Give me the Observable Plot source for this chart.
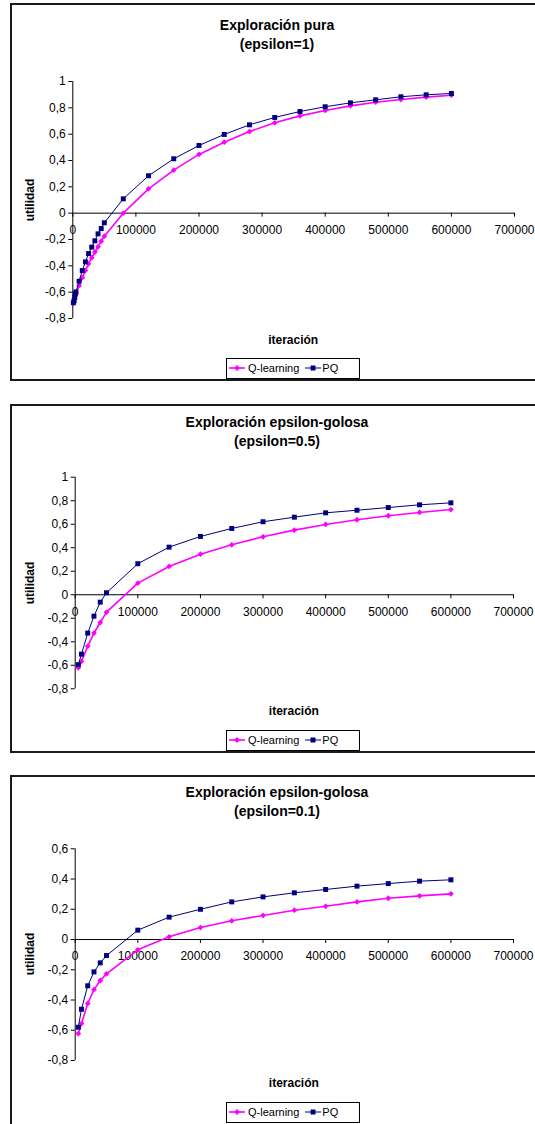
<!DOCTYPE html>
<html><head><meta charset="utf-8">
<script src="https://cdn.jsdelivr.net/npm/d3@7"></script>
<script src="https://cdn.jsdelivr.net/npm/@observablehq/plot@0.6"></script>
<style>
html,body{margin:0;padding:0;background:#fff;}
body{width:535px;height:1124px;position:relative;overflow:hidden;font-family:"Liberation Sans",Arial,sans-serif;color:#000;}
.frame{position:absolute;box-sizing:border-box;border:2px solid #1a1a1a;}
.title{position:absolute;text-align:center;font-weight:bold;font-size:14px;line-height:19px;white-space:nowrap;}
.ylab{position:absolute;font-weight:bold;font-size:12px;transform:translate(-50%,-50%) rotate(-90deg);white-space:nowrap;}
.xlab{position:absolute;font-weight:bold;font-size:12px;transform:translate(-50%,-50%);white-space:nowrap;}
.legend{position:absolute;box-sizing:border-box;border:1px solid #000;background:#fff;font-size:11px;display:flex;align-items:center;white-space:nowrap;}
.legend svg{display:block;}
.plotwrap{position:absolute;left:0;}
</style></head><body>
<script>
// ---- data ----
const xTicks = [0, 100000, 200000, 300000, 400000, 500000, 600000, 700000];
const yTicksA = [1, 0.8, 0.6, 0.4, 0.2, 0, -0.2, -0.4, -0.6, -0.8];
const yTicksB = [0.6, 0.4, 0.2, 0, -0.2, -0.4, -0.6, -0.8];
const seriesNames = ["Q-learning", "PQ"];
const seriesColors = ["#FF00FF", "#000080"];
const yTitle = "utilidad";
const xTitle = "iteración";

const title1 = ["Exploración pura", "(epsilon=1)"];
const iter1 = [1000, 2000, 3000, 4000, 5000, 10000, 15000, 20000, 25000, 30000, 35000, 40000, 45000, 50000,
  80000, 120000, 160000, 200000, 240000, 280000, 320000, 360000, 400000, 440000, 480000, 520000, 560000, 600000];
const q1 = [-0.685, -0.67, -0.65, -0.63, -0.613, -0.55, -0.49, -0.436, -0.385, -0.338, -0.295, -0.256, -0.213, -0.175,
  0.0, 0.185, 0.327, 0.446, 0.539, 0.62, 0.686, 0.739, 0.78, 0.815, 0.843, 0.863, 0.881, 0.896];
const pq1 = [-0.68, -0.665, -0.64, -0.61, -0.598, -0.517, -0.436, -0.37, -0.307, -0.258, -0.21, -0.157, -0.117, -0.073,
  0.109, 0.284, 0.413, 0.514, 0.598, 0.671, 0.727, 0.772, 0.808, 0.838, 0.861, 0.884, 0.899, 0.909];

const title2 = ["Exploración epsilon-golosa", "(epsilon=0.5)"];
const iter2 = [5000, 10000, 20000, 30000, 40000, 50000, 100000, 150000, 200000, 250000, 300000, 350000, 400000, 450000, 500000, 550000, 600000];
const q2 = [-0.621, -0.567, -0.437, -0.326, -0.236, -0.148, 0.099, 0.241, 0.345, 0.425, 0.493, 0.550, 0.598, 0.638, 0.672, 0.700, 0.725];
const pq2 = [-0.595, -0.505, -0.326, -0.182, -0.063, 0.017, 0.264, 0.405, 0.496, 0.564, 0.621, 0.660, 0.697, 0.719, 0.742, 0.765, 0.782];

const title3 = ["Exploración epsilon-golosa", "(epsilon=0.1)"];
const iter3 = [5000, 10000, 20000, 30000, 40000, 50000, 100000, 150000, 200000, 250000, 300000, 350000, 400000, 450000, 500000, 550000, 600000];
const q3 = [-0.622, -0.556, -0.423, -0.331, -0.271, -0.227, -0.068, 0.018, 0.079, 0.124, 0.159, 0.194, 0.220, 0.249, 0.273, 0.289, 0.302];
const pq3 = [-0.580, -0.461, -0.306, -0.214, -0.154, -0.106, 0.062, 0.148, 0.200, 0.249, 0.282, 0.309, 0.331, 0.353, 0.370, 0.386, 0.395];

// ---- layout ----
const panels = [
  {title: title1, iter: iter1, q: q1, pq: pq1, yTicks: yTicksA,
   frameTop: 3, frameHeight: 378, svgTop: 60, svgHeight: 300, mt: 21, mb: 42, ml: 72.3, mr: 21,
   titleTop: 15.5, xlabY: 340, legendTop: 357.5},
  {title: title2, iter: iter2, q: q2, pq: pq2, yTicks: yTicksA,
   frameTop: 403.5, frameHeight: 349.5, svgTop: 460, svgHeight: 250, mt: 16.7, mb: 21.7, ml: 74.7, mr: 22,
   titleTop: 413, xlabY: 710.7, legendTop: 729.8},
  {title: title3, iter: iter3, q: q3, pq: pq3, yTicks: yTicksB,
   frameTop: 775, frameHeight: 400, svgTop: 830, svgHeight: 250, mt: 18.3, mb: 20, ml: 74.7, mr: 22,
   titleTop: 783, xlabY: 1082.7, legendTop: 1101.5}
];

const fmt = d => String(d).replace(".", ",");
const W = 535;

function el(tag, cls, style, text) {
  const e = document.createElement(tag);
  if (cls) e.className = cls;
  Object.assign(e.style, style || {});
  if (text != null) e.textContent = text;
  document.body.appendChild(e);
  return e;
}

function swatch(color, symbol) {
  const ns = "http://www.w3.org/2000/svg";
  const s = document.createElementNS(ns, "svg");
  s.setAttribute("width", 16); s.setAttribute("height", 10);
  const l = document.createElementNS(ns, "line");
  l.setAttribute("x1", 0); l.setAttribute("x2", 16); l.setAttribute("y1", 5); l.setAttribute("y2", 5);
  l.setAttribute("stroke", color); l.setAttribute("stroke-width", symbol === "square" ? 1 : 1.6);
  s.appendChild(l);
  const p = document.createElementNS(ns, "path");
  p.setAttribute("d", symbol === "square" ? "M5.5,2.5h5v5h-5z" : "M8,2l3,3l-3,3l-3,-3z");
  p.setAttribute("fill", color);
  s.appendChild(p);
  return s;
}

for (const P of panels) {
  el("div", "frame", {left: "10px", top: P.frameTop + "px", width: "534px", height: P.frameHeight + "px"});
  const t = el("div", "title", {left: "10px", width: "534px", top: P.titleTop + "px"});
  t.innerHTML = P.title[0] + "<br>" + P.title[1];

  const yDomain = [P.yTicks[P.yTicks.length - 1], P.yTicks[0]];
  const plotH = P.svgHeight - P.mt - P.mb;
  const plotW = W - P.ml - P.mr;
  const tickLen = 4 * (yDomain[1] - yDomain[0]) / plotH;
  const data = P.iter.map((x, i) => ({x, q: P.q[i], pq: P.pq[i]}));

  const svg = Plot.plot({
    width: W, height: P.svgHeight,
    marginTop: P.mt, marginBottom: P.mb, marginLeft: P.ml, marginRight: P.mr,
    x: {domain: [xTicks[0], xTicks[xTicks.length - 1]], axis: null},
    y: {domain: yDomain, label: null},
    style: {fontFamily: '"Liberation Sans", Arial, sans-serif', fontSize: "12px", color: "#000", background: "transparent", overflow: "visible"},
    marks: [
      Plot.ruleY([0], {stroke: "#000"}),
      Plot.ruleX([0], {stroke: "#000"}),
      Plot.ruleX(xTicks, {x: d => d, y1: 0, y2: -tickLen, stroke: "#000"}),
      Plot.axisY(P.yTicks, {tickSize: 4, tickPadding: 3, tickFormat: fmt, fontSize: 12, label: null}),
      Plot.text(xTicks, {x: d => d, y: 0, dy: 17, text: d => String(d), fontSize: 12}),
      Plot.line(data, {x: "x", y: "q", stroke: seriesColors[0], strokeWidth: 1.6}),
      Plot.dot(data, {x: "x", y: "q", symbol: "diamond2", r: 2.6, fill: seriesColors[0]}),
      Plot.line(data, {x: "x", y: "pq", stroke: seriesColors[1], strokeWidth: 1}),
      Plot.dot(data, {x: "x", y: "pq", symbol: "square", r: 2.8, fill: seriesColors[1]})
    ]
  });
  const wrap = el("div", "plotwrap", {top: P.svgTop + "px"});
  wrap.appendChild(svg);

  el("div", "ylab", {left: "30px", top: (P.svgTop + P.mt + plotH / 2) + "px"}, yTitle);
  el("div", "xlab", {left: (P.ml + plotW / 2) + "px", top: P.xlabY + "px"}, xTitle);

  const lg = el("div", "legend", {left: "226px", top: P.legendTop + "px", width: "134px", height: "21px", paddingLeft: "2px"});
  lg.appendChild(swatch(seriesColors[0], "diamond2"));
  const s1 = document.createElement("span"); s1.textContent = seriesNames[0]; s1.style.margin = "0 6px 0 3px"; lg.appendChild(s1);
  lg.appendChild(swatch(seriesColors[1], "square"));
  const s2 = document.createElement("span"); s2.textContent = seriesNames[1]; s2.style.marginLeft = "1px"; lg.appendChild(s2);
}
</script></body></html>
